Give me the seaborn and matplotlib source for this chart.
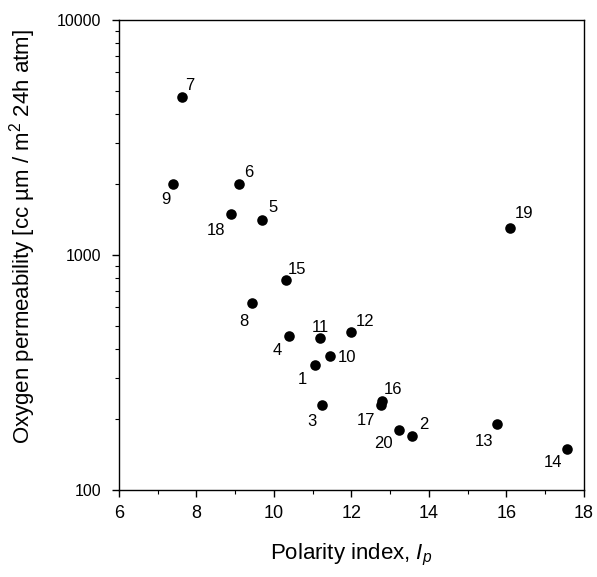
import numpy as np
import pandas as pd
import matplotlib
matplotlib.use("Agg")
import matplotlib.pyplot as plt
import seaborn as sns
from matplotlib.ticker import MultipleLocator, LogLocator, NullFormatter, FixedLocator

# sample number, polarity index and oxygen permeability
sample = [7, 9, 6, 18, 5, 15, 8, 4, 11, 12, 10, 1, 3, 16, 17, 20, 2, 19, 13, 14]
polarity = [7.62, 7.40, 9.11, 8.88, 9.68, 10.31, 9.44, 10.38, 11.20, 12.00,
            11.44, 11.05, 11.24, 12.80, 12.75, 13.23, 13.55, 16.08, 15.75, 17.57]
permeability = [4690, 2000, 2000, 1500, 1405, 783, 623, 451, 442, 472,
                372, 340, 230, 240, 230, 180, 170, 1306, 190, 150]

df = pd.DataFrame({"Sample": sample, "Polarity": polarity, "Permeability": permeability})

# label offsets (pixels) for each sample number
label_dx = {7: 8, 9: -7, 6: 9, 18: -15, 5: 11, 15: 11, 8: -8, 4: -11, 11: 0, 12: 14,
            10: 17, 1: -12, 3: -10, 16: 11, 17: -15, 20: -16, 2: 12, 19: 14, 13: -13, 14: -14}
label_dy = {7: -12, 9: 15, 6: -12, 18: 17, 5: -13, 15: -10, 8: 18, 4: 14, 11: -11, 12: -10,
            10: 2, 1: 14, 3: 17, 16: -11, 17: 16, 20: 13, 2: -11, 19: -14, 13: 17, 14: 14}

sns.set_style("ticks")
plt.rcParams['font.family'] = ['Liberation Sans', 'DejaVu Sans']
plt.rcParams['mathtext.fontset'] = 'custom'
plt.rcParams['mathtext.rm'] = 'Liberation Sans'
plt.rcParams['mathtext.it'] = 'Liberation Sans:italic'
plt.rcParams['text.color'] = 'black'
plt.rcParams['axes.labelcolor'] = 'black'
plt.rcParams['xtick.color'] = 'black'
plt.rcParams['ytick.color'] = 'black'

fig = plt.figure(figsize=(5.97, 5.77), dpi=100)
ax = fig.add_axes([0.1993, 0.1508, 0.7789, 0.8145])

sns.scatterplot(x='Polarity', y='Permeability', data=df, ax=ax, color='black',
                s=58, edgecolor='black', linewidth=0, legend=False)

ax.set_yscale('log')
ax.set_xlim(6, 18)
ax.set_ylim(100, 10000)

for _, r in df.iterrows():
    n = int(r['Sample'])
    ax.annotate(str(n), (r['Polarity'], r['Permeability']),
                xytext=(label_dx[n] * 0.72, -label_dy[n] * 0.72), textcoords='offset points',
                ha='center', va='center', fontsize=12, color='black')

ax.xaxis.set_major_locator(MultipleLocator(2))
ax.xaxis.set_minor_locator(MultipleLocator(1))
ax.yaxis.set_major_locator(FixedLocator([100, 1000, 10000]))
ax.yaxis.set_major_formatter(matplotlib.ticker.FuncFormatter(lambda v, p: f"{int(v)}"))
ax.yaxis.set_minor_locator(LogLocator(base=10, subs=np.arange(2, 10)))
ax.yaxis.set_minor_formatter(NullFormatter())

ax.tick_params(axis='x', which='major', length=5, width=1, labelsize=13, pad=6)
ax.tick_params(axis='y', which='major', length=5, width=1, labelsize=11.5, pad=8)
ax.tick_params(which='minor', length=3, width=0.8)
for sp in ax.spines.values():
    sp.set_linewidth(1.0)
    sp.set_color('black')

ax.set_xlabel('Polarity index, $I_p$', fontsize=16, labelpad=14)
ax.set_ylabel('Oxygen permeability [cc µm / m$^2$ 24h atm]', fontsize=16)
ax.yaxis.set_label_coords(-0.175, 0.54)

fig.savefig('out.png', dpi=100)
